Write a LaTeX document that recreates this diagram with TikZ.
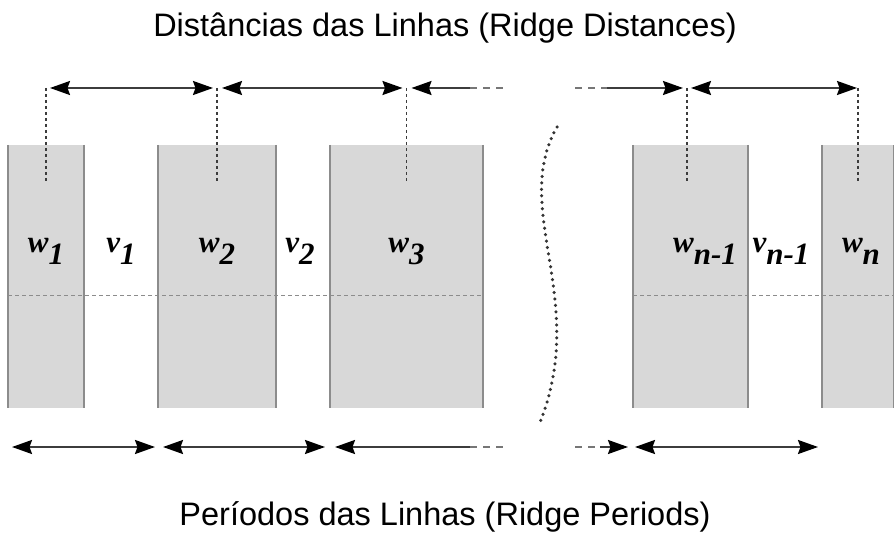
\documentclass[tikz,border=0pt]{standalone}
\usepackage{fontspec}
\usepackage{tikz}
\usetikzlibrary{positioning,arrows.meta}
\newfontfamily\titlefont{Liberation Sans}
\newfontfamily\labfont{Liberation Serif}
\definecolor{ridgefill}{RGB}{216,216,216}
\definecolor{ridgeedge}{RGB}{140,140,140}
\definecolor{inkgray}{RGB}{60,60,60}
\newcommand{\ridgelab}[2]{#1\raisebox{-0.36em}{#2}}
\tikzset{
  ridgebox/.style={fill=ridgefill, inner sep=0pt, outer sep=0pt, minimum height=263pt},
  boxedge/.style={draw=ridgeedge, line width=1.3pt},
  guide/.style={draw=inkgray, line width=1.7pt, dash pattern=on 3.5pt off 2.5pt},
  midline/.style={draw=ridgeedge, line width=1pt, dash pattern=on 4pt off 3pt},
  dimline/.style={line width=2pt, draw=inkgray, >={Stealth[length=20pt, width=14pt, inset=2.5pt, fill=black, black]}},
  fadeline/.style={line width=2pt, draw=inkgray!70, dash pattern=on 7pt off 6pt},
  curvy/.style={draw=black!80, line width=3.5pt, line cap=round, dash pattern=on 0pt off 6.5pt},
  lab/.style={font=\labfont\bfseries\itshape\fontsize{31}{33}\selectfont, inner sep=0pt, anchor=base},
  heading/.style={font=\titlefont\fontsize{32.5}{36}\selectfont, inner sep=0pt},
}

\begin{document}
\begin{tikzpicture}[x=1pt, y=-1pt]
  \useasboundingbox (0,0) rectangle (894,534);
  % ridges
  \node[ridgebox, minimum width=76pt] (r1) at (46,276.5) {};
  \node[ridgebox, minimum width=118pt, right=74pt of r1] (r2) {};
  \node[ridgebox, minimum width=153pt, right=54pt of r2] (r3) {};
  \node[ridgebox, minimum width=115pt, right=150pt of r3] (r4) {};
  \node[ridgebox, minimum width=72pt, right=74pt of r4] (r5) {};
  \foreach \r in {r1,r2,r3,r4,r5}{
    \draw[boxedge] (\r.north west) -- (\r.south west);
    \draw[boxedge] (\r.north east) -- (\r.south east);
  }
  \draw[midline] (r1.west |- 0,296) -- (r3.east |- 0,296);
  \draw[midline] (r4.west |- 0,296) -- (r5.east |- 0,296);

  % ridge distances
  \coordinate (ty) at (0,88);
  \coordinate (gy) at (0,182);
  \coordinate (t1) at (r1 |- ty);
  \coordinate (t2) at (r2 |- ty);
  \coordinate (t3) at (r3 |- ty);
  \coordinate (t4) at (687,88);
  \coordinate (t5) at (r5 |- ty);
  \foreach \t/\r in {t1/r1,t2/r2,t3/r3,t5/r5}
    \draw[guide] (\t) -- (\r |- gy);
  \draw[guide] (t4) -- (t4 |- gy);
  \coordinate (ta) at (470,88);
  \coordinate (tb) at (503,88);
  \coordinate (tc) at (575,88);
  \coordinate (td) at (607,88);
  \draw[dimline, <->, shorten <=4pt, shorten >=4pt] (t1) -- (t2);
  \draw[dimline, <->, shorten <=5pt, shorten >=4pt] (t2) -- (t3);
  \draw[dimline, <-, shorten <=5pt] (t3) -- (ta);
  \draw[fadeline] (ta) -- (tb);
  \draw[fadeline] (tc) -- (td);
  \draw[dimline, ->, shorten >=4pt] (td) -- (t4);
  \draw[dimline, <->, shorten <=4pt, shorten >=1pt] (t4) -- (t5);

  % ridge periods
  \coordinate (by) at (0,447);
  \coordinate (b1) at (r1.west |- by);
  \coordinate (b2) at (r2.west |- by);
  \coordinate (b3) at (r3.west |- by);
  \coordinate (b4) at (r4.west |- by);
  \coordinate (b5) at (r5.west |- by);
  \coordinate (ba) at (470,447);
  \coordinate (bb) at (503,447);
  \coordinate (bc) at (575,447);
  \coordinate (bd) at (600,447);
  \draw[dimline, <->, shorten <=4pt, shorten >=3pt] (b1) -- (b2);
  \draw[dimline, <->, shorten <=5pt, shorten >=5pt] (b2) -- (b3);
  \draw[dimline, <-, shorten <=5pt] (b3) -- (ba);
  \draw[fadeline] (ba) -- (bb);
  \draw[fadeline] (bc) -- (bd);
  \draw[dimline, ->, shorten >=5pt] (bd) -- (b4);
  \draw[dimline, <->, shorten <=2pt, shorten >=4pt] (b4) -- (b5);

  % break
  \coordinate (k1) at (557,127);
  \coordinate (k2) at (539,425);
  \draw[curvy] (k1) .. controls (510,210) and (590,300) .. (k2);

  % labels
  \coordinate (ly) at (0,253);
  \node[lab] (lw1) at (r1 |- ly) {\ridgelab{w}{1}};
  \node[lab] (lv1) at (121,253) {\ridgelab{v}{1}};
  \node[lab] (lw2) at (r2 |- ly) {\ridgelab{w}{2}};
  \node[lab] (lv2) at (300,253) {\ridgelab{v}{2}};
  \node[lab] (lw3) at (r3 |- ly) {\ridgelab{w}{3}};
  \node[lab] (lwn1) at (705,253) {\ridgelab{w}{n-1}};
  \node[lab] (lvn1) at (781,253) {\ridgelab{v}{n-1}};
  \node[lab] (lwn) at (861,253) {\ridgelab{w}{n}};

  % titles
  \node[heading] (top) at (445,28) {Distâncias das Linhas (Ridge Distances)};
  \node[heading] (bottom) at (445,517) {Períodos das Linhas (Ridge Periods)};
\end{tikzpicture}
\end{document}
